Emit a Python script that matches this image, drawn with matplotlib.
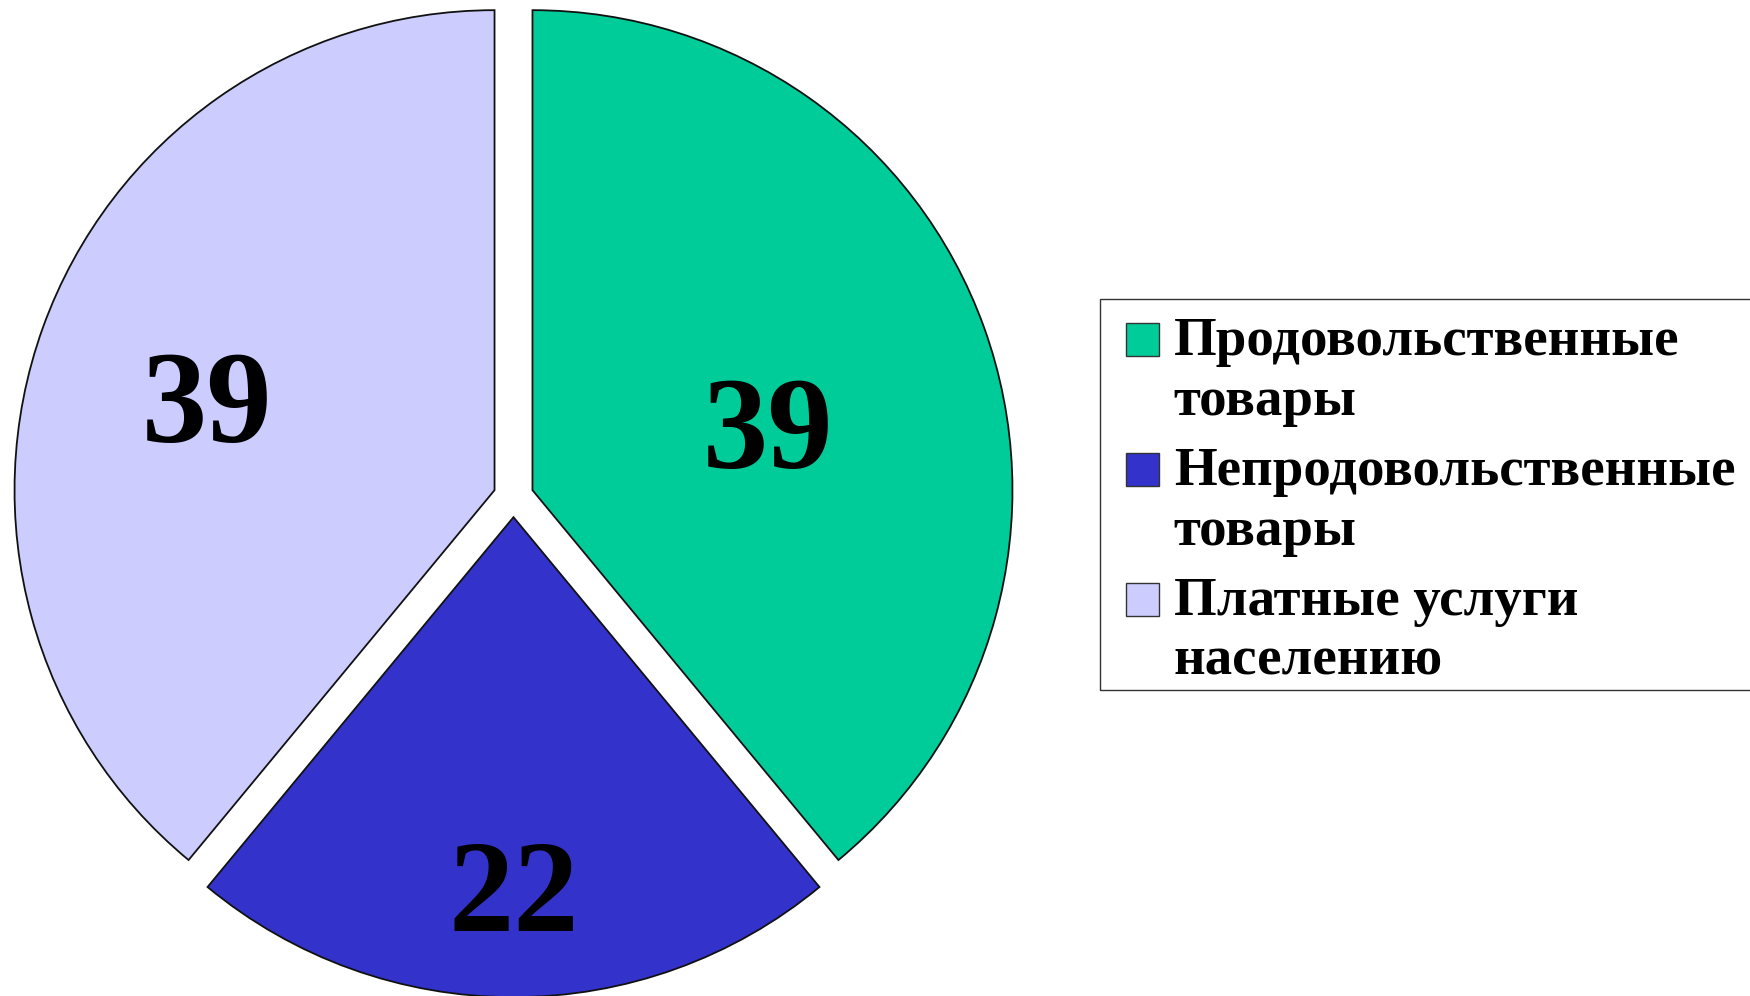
import numpy as np
import matplotlib
matplotlib.use('Agg')
import matplotlib.pyplot as plt
from matplotlib.patches import Rectangle, Wedge
from matplotlib.legend_handler import HandlerPatch

categories = ['Продовольственные\nтовары', 'Непродовольственные\nтовары', 'Платные услуги\nнаселению']
values = [39, 22, 39]
colors = ['#00CC99', '#3333CC', '#CCCCFF']

# where each number sits inside its slice (fraction of radius, angle tweak in degrees)
label_dist = [0.51, 0.77, 0.63]
label_turn = [-4.0, 0.0, 2.0]

plt.rcParams['font.family'] = ['Liberation Serif', 'DejaVu Serif']
plt.rcParams['font.weight'] = 'bold'

W, H = 1750, 996
fig = plt.figure(figsize=(W / 100, H / 100), dpi=100)

# pie of radius 480 px centred at (513.5, 497) px from top-left
R, L = 480, 1.1
S = 2 * L * R
cx, cy = 513.5, H - 497
ax = fig.add_axes([(cx - S / 2) / W, (cy - S / 2) / H, S / W, S / H])

wedges, _ = ax.pie(values, colors=colors, startangle=90, counterclock=False,
                   explode=[0.042] * len(values),
                   wedgeprops=dict(edgecolor='#111111', linewidth=1.3))
ax.set_xlim(-L, L)
ax.set_ylim(-L, L)
ax.axis('off')

num_size = 94
for w, v, d, t in zip(wedges, values, label_dist, label_turn):
    mid = np.deg2rad((w.theta1 + w.theta2) / 2 + t)
    x = w.center[0] + d * w.r * np.cos(mid)
    y = w.center[1] + d * w.r * np.sin(mid)
    # centre the digits themselves, not the text box
    ax.annotate(str(v), (x, y), xytext=(0, -0.34 * num_size), textcoords='offset points',
                ha='center', va='baseline', fontsize=num_size, fontweight='bold')


def top_square(legend, orig_handle, xdescent, ydescent, width, height, fontsize):
    # square next to the first line of a two-line label
    return Rectangle((-xdescent, 0.64 * fontsize), width, width)


leg_size = 39.5
leg = fig.legend(wedges, categories, loc='upper left',
                 bbox_to_anchor=(1126 / W, (H - 317) / H),
                 frameon=False, borderpad=0, borderaxespad=0, fontsize=leg_size,
                 handlelength=0.6, handleheight=0.6, handletextpad=0.27,
                 labelspacing=0.37,
                 handler_map={Wedge: HandlerPatch(patch_func=top_square)})
for t in leg.get_texts():
    t.set_linespacing(1.255)
for h in leg.legend_handles:
    h.set_edgecolor('#333333')
    h.set_linewidth(1.0)

fig.add_artist(Rectangle((1100 / W, (H - 690) / H), 700 / W, 391 / H,
                         transform=fig.transFigure, fill=False,
                         edgecolor='#333333', linewidth=1.0))

fig.savefig('out.png', dpi=100, facecolor='white')
